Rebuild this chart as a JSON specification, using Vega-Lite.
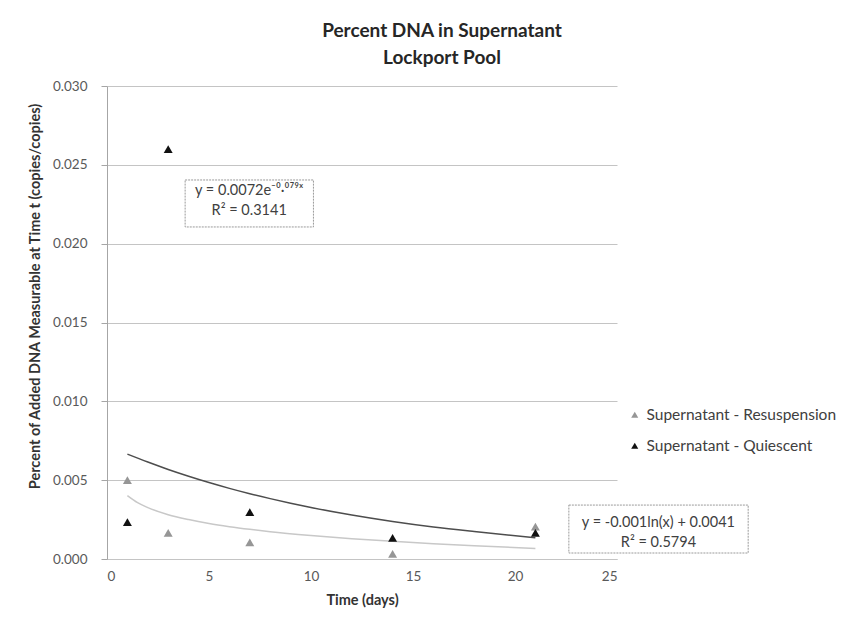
{
  "$schema": "https://vega.github.io/schema/vega-lite/v6.json",
  "width": 510,
  "height": 473,
  "autosize": "none",
  "padding": {"left": 107, "top": 86, "right": 248, "bottom": 75},
  "background": "white",
  "title": {
    "text": ["Percent DNA in Supernatant", "Lockport Pool"],
    "font": "Lato",
    "fontSize": 19,
    "fontWeight": "bold",
    "color": "#262626",
    "anchor": "middle",
    "frame": "group",
    "dx": 80,
    "offset": 11,
    "lineHeight": 27
  },
  "datasets": {
    "obs": [
      {"t": 1, "pct": 0.0050, "series": "Supernatant - Resuspension"},
      {"t": 3, "pct": 0.00165, "series": "Supernatant - Resuspension"},
      {"t": 7, "pct": 0.00106, "series": "Supernatant - Resuspension"},
      {"t": 14, "pct": 0.00033, "series": "Supernatant - Resuspension"},
      {"t": 21, "pct": 0.00205, "series": "Supernatant - Resuspension"},
      {"t": 1, "pct": 0.00234, "series": "Supernatant - Quiescent"},
      {"t": 3, "pct": 0.0260, "series": "Supernatant - Quiescent"},
      {"t": 7, "pct": 0.00298, "series": "Supernatant - Quiescent"},
      {"t": 14, "pct": 0.00134, "series": "Supernatant - Quiescent"},
      {"t": 21, "pct": 0.00165, "series": "Supernatant - Quiescent"}
    ],
    "trend": [
      {"t": 1, "pct": 0.00665, "fit": "exp"},
      {"t": 2, "pct": 0.00615, "fit": "exp"},
      {"t": 3, "pct": 0.00568, "fit": "exp"},
      {"t": 4, "pct": 0.00525, "fit": "exp"},
      {"t": 5, "pct": 0.00485, "fit": "exp"},
      {"t": 6, "pct": 0.00448, "fit": "exp"},
      {"t": 7, "pct": 0.00414, "fit": "exp"},
      {"t": 8, "pct": 0.00383, "fit": "exp"},
      {"t": 9, "pct": 0.00354, "fit": "exp"},
      {"t": 10, "pct": 0.00327, "fit": "exp"},
      {"t": 12, "pct": 0.00279, "fit": "exp"},
      {"t": 14, "pct": 0.00238, "fit": "exp"},
      {"t": 16, "pct": 0.00203, "fit": "exp"},
      {"t": 18, "pct": 0.00174, "fit": "exp"},
      {"t": 21, "pct": 0.00135, "fit": "exp"},
      {"t": 1, "pct": 0.00402, "fit": "log"},
      {"t": 1.5, "pct": 0.00357, "fit": "log"},
      {"t": 2, "pct": 0.00326, "fit": "log"},
      {"t": 3, "pct": 0.00281, "fit": "log"},
      {"t": 4, "pct": 0.00250, "fit": "log"},
      {"t": 5, "pct": 0.00225, "fit": "log"},
      {"t": 6, "pct": 0.00205, "fit": "log"},
      {"t": 7, "pct": 0.00188, "fit": "log"},
      {"t": 8, "pct": 0.00173, "fit": "log"},
      {"t": 10, "pct": 0.00149, "fit": "log"},
      {"t": 12, "pct": 0.00129, "fit": "log"},
      {"t": 14, "pct": 0.00112, "fit": "log"},
      {"t": 16, "pct": 0.00097, "fit": "log"},
      {"t": 18, "pct": 0.00084, "fit": "log"},
      {"t": 21, "pct": 0.00067, "fit": "log"}
    ],
    "boxes": [
      {"x1": 3.83, "x2": 10.12, "y1": 0.02404, "y2": 0.02106},
      {"x1": 22.64, "x2": 31.43, "y1": 0.00342, "y2": 0.00038}
    ],
    "notes": [
      {"t": 6.97, "pct": 0.02334, "label": "y = 0.0072e⁻⁰·⁰⁷⁹ˣ\nR² = 0.3141"},
      {"t": 27.03, "pct": 0.00228, "label": "y = -0.001ln(x) + 0.0041\nR² = 0.5794"}
    ]
  },
  "layer": [
    {
      "data": {"name": "trend"},
      "mark": {"type": "line", "strokeWidth": 1.5, "interpolate": "monotone"},
      "encoding": {
        "x": {"field": "t", "type": "quantitative"},
        "y": {"field": "pct", "type": "quantitative"},
        "stroke": {
          "field": "fit",
          "type": "nominal",
          "scale": {"domain": ["exp", "log"], "range": ["#4d4d4d", "#c8c8c8"]},
          "legend": null
        }
      }
    },
    {
      "data": {"name": "obs"},
      "mark": {"type": "point", "shape": "triangle-up", "filled": true, "size": 80, "opacity": 1},
      "encoding": {
        "x": {
          "field": "t",
          "type": "quantitative",
          "title": "Time (days)",
          "scale": {"domain": [0, 25], "nice": false, "zero": true},
          "axis": {"values": [0, 5, 10, 15, 20, 25], "grid": false, "ticks": false, "titleFontSize": 14.5, "titlePadding": 11}
        },
        "y": {
          "field": "pct",
          "type": "quantitative",
          "title": "Percent of Added DNA Measurable at Time t (copies/copies)",
          "scale": {"domain": [0, 0.03], "nice": false},
          "axis": {"values": [0, 0.005, 0.01, 0.015, 0.02, 0.025, 0.03], "format": ".3f", "grid": true,
                   "titleX": -72, "titleY": 210, "titleAngle": 270, "titleAlign": "center", "titleBaseline": "middle",
                   "titleFontSize": 14.5}
        },
        "color": {
          "field": "series",
          "type": "nominal",
          "scale": {"domain": ["Supernatant - Resuspension", "Supernatant - Quiescent"], "range": ["#969696", "#111111"]},
          "legend": {
            "title": null,
            "orient": "none",
            "legendX": 520,
            "legendY": 321,
            "symbolType": "triangle-up",
            "symbolSize": 50,
            "rowPadding": 14,
            "labelFont": "Lato",
            "labelFontSize": 15.5,
            "labelLimit": 400,
            "labelColor": "#404040",
            "labelOffset": 4
          }
        }
      }
    },
    {
      "data": {"name": "boxes"},
      "mark": {"type": "rect", "fill": "white", "stroke": "#9a9a9a", "strokeWidth": 1, "strokeDash": [2, 1]},
      "encoding": {
        "x": {"field": "x1", "type": "quantitative"},
        "x2": {"field": "x2"},
        "y": {"field": "y1", "type": "quantitative"},
        "y2": {"field": "y2"}
      }
    },
    {
      "data": {"name": "notes"},
      "mark": {"type": "text", "font": "Lato", "fontSize": 14.5, "color": "#404040", "lineBreak": "\n", "lineHeight": 20, "align": "center", "baseline": "middle"},
      "encoding": {
        "x": {"field": "t", "type": "quantitative"},
        "y": {"field": "pct", "type": "quantitative"},
        "text": {"field": "label"}
      }
    }
  ],
  "config": {
    "view": {"stroke": null},
    "font": "Lato",
    "axis": {
      "labelFont": "Lato",
      "labelFontSize": 13.5,
      "labelColor": "#595959",
      "titleFont": "Lato",
      "titleFontSize": 13.5,
      "titleFontWeight": "bold",
      "titleColor": "#333333",
      "domainColor": "#a6a6a6",
      "tickColor": "#a6a6a6",
      "gridColor": "#c4c4c4"
    },
    "axisY": {"tickSize": 6, "labelPadding": 14},
    "axisX": {"labelPadding": 10, "domainColor": "#c4c4c4"}
  }
}
